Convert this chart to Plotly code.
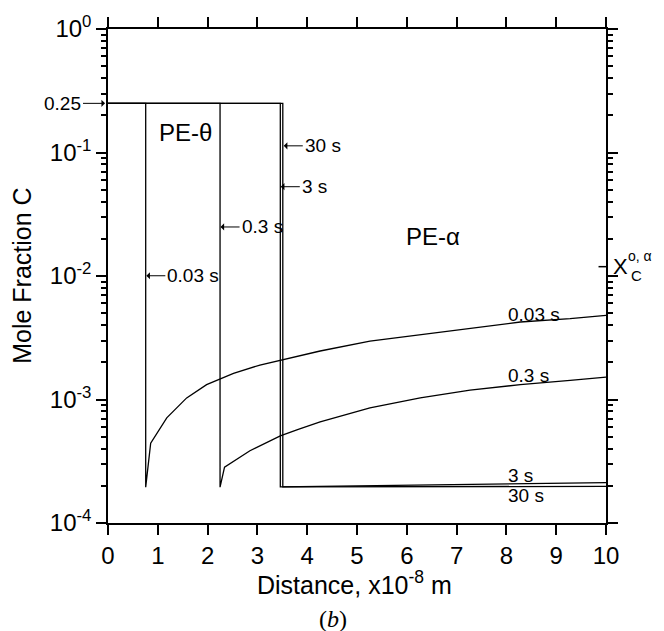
import numpy as np
import plotly.graph_objects as go

# Composition profiles across the PE-theta / PE-alpha couple
THETA_C = 0.25          # mole fraction of C in PE-theta
XC_EQ = 0.0119          # X_C^{o,alpha} marker on the right axis

# interface positions (x10^-8 m)
X_IF_003 = 0.757
X_IF_03 = 2.25
X_IF_3 = 3.46
X_IF_30 = 3.51

# 0.03 s profile in PE-alpha
x_003 = [0.757, 0.857, 1.18, 1.58, 1.98, 2.52, 3.05, 3.26, 3.48, 4.26, 5.26, 6.27, 7.27, 8.28, 9.28, 10.0]
c_003 = [1.95e-4, 4.43e-4, 7.1e-4, 1.03e-3, 1.32e-3, 1.63e-3, 1.9e-3, 1.99e-3, 2.11e-3,
         2.47e-3, 2.97e-3, 3.36e-3, 3.80e-3, 4.24e-3, 4.51e-3, 4.80e-3]

# 0.3 s profile in PE-alpha
x_03 = [2.25, 2.34, 2.85, 3.46, 3.82, 4.26, 5.26, 6.27, 7.27, 8.28, 9.28, 10.0]
c_03 = [1.95e-4, 2.83e-4, 3.85e-4, 5.07e-4, 5.74e-4, 6.6e-4, 8.55e-4, 1.03e-3, 1.19e-3,
        1.32e-3, 1.43e-3, 1.52e-3]

# 3 s profile in PE-alpha
x_3 = [3.46, 5.0, 7.0, 8.5, 10.0]
c_3 = [1.96e-4, 1.99e-4, 2.04e-4, 2.08e-4, 2.12e-4]

# 30 s profile in PE-alpha
x_30 = [3.51, 10.0]
c_30 = [1.96e-4, 1.98e-4]

x_ticks = list(range(0, 11))
y_tickvals = [1e-4, 1e-3, 1e-2, 1e-1, 1]
y_ticktext = ["10<sup>-4</sup>", "10<sup>-3</sup>", "10<sup>-2</sup>", "10<sup>-1</sup>", "10<sup>0</sup>"]
y_minor = [m * 10.0 ** e for e in range(-4, 0) for m in range(2, 10)]

FONT = "Liberation Sans, Arial, Helvetica, sans-serif"


def profile(x_if, xs, cs):
    """Full profile: flat PE-theta plateau, drop at the interface, alpha branch."""
    return [0.0, x_if] + list(xs), [THETA_C, THETA_C] + list(cs)


fig = go.Figure()
for x_if, xs, cs in [(X_IF_003, x_003, c_003), (X_IF_03, x_03, c_03),
                     (X_IF_3, x_3, c_3), (X_IF_30, x_30, c_30)]:
    px, py = profile(x_if, xs, cs)
    fig.add_trace(go.Scatter(x=px, y=py, mode="lines",
                             line=dict(color="black", width=1.3),
                             showlegend=False, hoverinfo="skip"))

axis_common = dict(showline=True, linecolor="black", linewidth=1.5, mirror="allticks",
                   ticks="outside", ticklen=10, tickwidth=1.6, tickcolor="black",
                   showgrid=False, zeroline=False,
                   tickfont=dict(family=FONT, size=24, color="black"))

fig.update_xaxes(range=[0, 10], tickmode="array", tickvals=x_ticks, **axis_common)
fig.update_yaxes(type="log", range=[-4, 0], tickmode="array",
                 tickvals=y_tickvals, ticktext=y_ticktext,
                 minor=dict(tickmode="array", tickvals=y_minor, ticks="outside",
                            ticklen=5, tickwidth=1.5, tickcolor="black", showgrid=False),
                 **axis_common)

ann = []


def label(text, x, logy, size=19, xanchor="left", xref="x", yref="y", **kw):
    ann.append(dict(text=text, x=x, y=logy, xref=xref, yref=yref, showarrow=False,
                    xanchor=xanchor, yanchor="middle",
                    font=dict(family=FONT, size=size, color="black"), **kw))


def pointer(text, x, logy, ax, xref="x"):
    """Text with a short horizontal arrow pointing at (x, logy)."""
    ann.append(dict(text=text, x=x, y=logy, xref=xref, yref="y", showarrow=True,
                    ax=ax, ay=0, arrowhead=1, arrowsize=1.2, arrowwidth=1,
                    arrowcolor="black", standoff=0,
                    xanchor="left" if ax > 0 else "right", yanchor="middle",
                    font=dict(family=FONT, size=19, color="black")))


# interface labels
pointer("30 s", 3.53, -0.946, 19)
pointer("3 s", 3.47, -1.277, 19)
pointer("0.3 s", 2.26, -1.603, 19)
pointer("0.03 s", 0.77, -1.998, 19)
# plateau value
pointer("0.25", -0.006, np.log10(THETA_C), -22, xref="paper")
# phase labels
label("PE-\u03b8", 1.55, -0.834, size=24, xanchor="center")
label("PE-\u03b1", 6.53, -1.683, size=24, xanchor="center")
# curve labels in PE-alpha
label("0.03 s", 8.0, -2.311)
label("0.3 s", 8.0, -2.808)
label("3 s", 8.0, -3.615)
label("30 s", 8.0, -3.776)
# equilibrium marker label
label("X", 1.011, np.log10(XC_EQ), size=22, xref="paper")
label("o, \u03b1", 1.041, np.log10(XC_EQ) + 0.085, size=14, xref="paper")
label("C", 1.046, np.log10(XC_EQ) - 0.07, size=15, xref="paper")

# axis titles and panel tag
label("Distance, x10<sup>-8</sup> m", 0.494, -0.122, size=25, xanchor="center",
      xref="paper", yref="paper")
label("Mole Fraction C", -0.173, 0.5, size=25, xanchor="center",
      xref="paper", yref="paper", textangle=-90)
ann.append(dict(text="(<i>b</i>)", x=0.452, y=-0.195, xref="paper", yref="paper",
                showarrow=False, xanchor="center", yanchor="middle",
                font=dict(family="Liberation Serif, Times New Roman, serif", size=24,
                          color="black")))

fig.update_layout(
    width=664, height=631,
    margin=dict(l=108, r=58, t=24, b=108),
    paper_bgcolor="white", plot_bgcolor="white",
    annotations=ann,
    shapes=[dict(type="line", xref="x", yref="y", x0=9.85, x1=10.04,
                 y0=XC_EQ, y1=XC_EQ, line=dict(color="black", width=1.5))],
)

fig.write_html("out.html")
